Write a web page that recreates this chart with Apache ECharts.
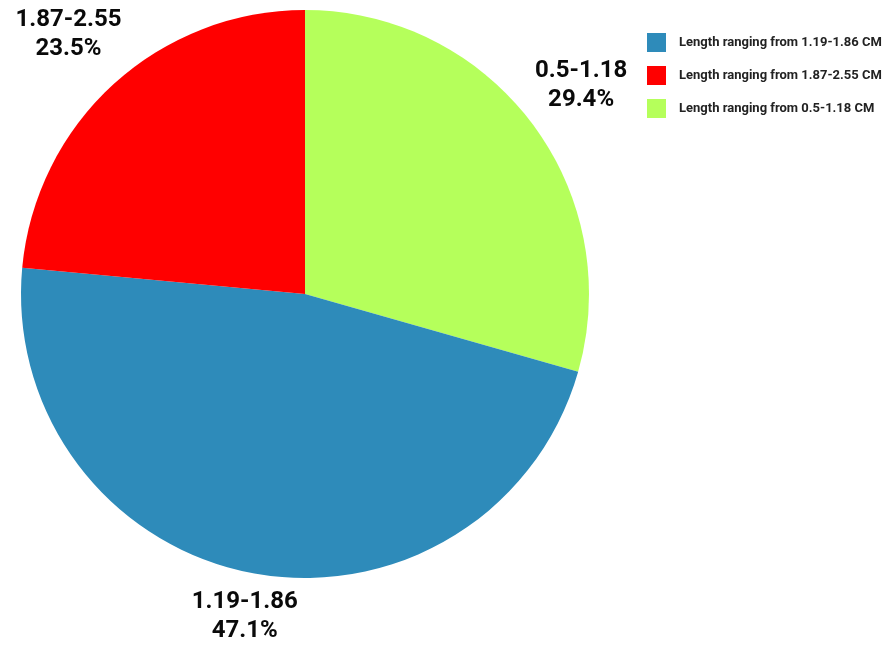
<!DOCTYPE html>
<html>
<head>
<meta charset="utf-8">
<title>Length distribution</title>
<script src="https://cdn.jsdelivr.net/npm/echarts@6/dist/echarts.min.js"></script>
<style>
  html, body { margin: 0; padding: 0; background: #ffffff; }
  #chart { width: 894px; height: 647px; }
</style>
</head>
<body>
<div id="chart"></div>
<script>
// Length classes (CM) and the number of samples in each, in drawing order (clockwise from 12 o'clock)
const lengthRanges = ['0.5-1.18', '1.19-1.86', '1.87-2.55'];
const sampleCounts = [5, 8, 4];
const sliceColors = ['#b5ff5b', '#2e8bba', '#ff0000'];
// Legend lists the classes in this order
const legendOrder = ['1.19-1.86', '1.87-2.55', '0.5-1.18'];
// How far past the rim each slice label sits (px)
const labelReach = [62, 44, 67];

const chart = echarts.init(document.getElementById('chart'), null, { renderer: 'canvas' });

const pieData = lengthRanges.map((name, i) => ({
  name: name,
  value: sampleCounts[i],
  itemStyle: { color: sliceColors[i] },
  labelLine: { show: false, length: labelReach[i], length2: 0 }
}));

chart.setOption({
  backgroundColor: '#ffffff',
  animation: false,
  legend: {
    orient: 'vertical',
    left: 647,
    top: 33,
    padding: 0,
    itemWidth: 19,
    itemHeight: 19,
    itemGap: 14,
    icon: 'rect',
    data: legendOrder,
    formatter: name => 'Length ranging from ' + name + ' CM',
    textStyle: {
      fontFamily: 'Roboto',
      fontWeight: 'bold',
      fontSize: 13,
      color: '#222222',
      padding: [0, 0, 0, 8]
    }
  },
  series: [{
    type: 'pie',
    center: [305, 294],
    radius: 284,
    startAngle: 90,
    clockwise: true,
    percentPrecision: 1,
    avoidLabelOverlap: false,
    data: pieData,
    label: {
      show: true,
      position: 'outside',
      alignTo: 'none',
      distanceToLabelLine: 0,
      formatter: '{b}\n{d}%',
      fontFamily: 'Roboto',
      fontWeight: 'bold',
      fontSize: 24,
      lineHeight: 29,
      color: '#0a0a0a'
    },
    labelLayout: () => ({ align: 'center', verticalAlign: 'middle' }),
    emphasis: { disabled: true }
  }]
});
</script>
</body>
</html>
